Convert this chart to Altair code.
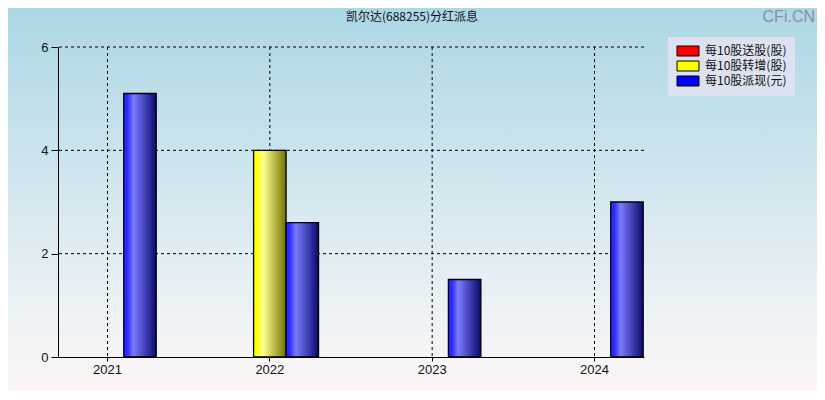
import altair as alt
import pandas as pd

years = ["2021", "2022", "2023", "2024"]
series = ["每10股送股(股)", "每10股转增(股)", "每10股派现(元)"]
song = [0, 0, 0, 0]
zhuan = [0, 4.0, 0, 0]
pai = [5.1, 2.6, 1.5, 3.0]
y_ticks = [0, 2, 4, 6]
title_text = "凯尔达(688255)分红派息"
watermark = "CFi.CN"

rows = []
for s, vals in zip(series, [song, zhuan, pai]):
    for y, v in zip(years, vals):
        rows.append({"year": y, "series": s, "value": v})
df = pd.DataFrame(rows)
ygrid_df = pd.DataFrame({"value": [t for t in y_ticks if t > 0]})
xgrid_df = pd.DataFrame({"year": years})

W, H = 586, 310
PL, PT, PR, PB = 50, 39, 173, 34

x_enc = alt.X("year:N", sort=years, title=None,
              scale=alt.Scale(paddingInner=0.4, paddingOuter=0.005),
              axis=alt.Axis(labelAngle=0, grid=False, ticks=True, tickSize=4, tickColor="black",
                            domainColor="black", labelFontSize=13, labelColor="#111",
                            labelPadding=2, labelFont="Liberation Sans", zindex=2))
xo_enc = alt.XOffset("series:N", sort=series,
                     scale=alt.Scale(domain=series, paddingInner=0, paddingOuter=0))
y_enc = alt.Y("value:Q", title=None,
              scale=alt.Scale(domain=[0, 6], nice=False),
              axis=alt.Axis(values=y_ticks, grid=False, tickColor="black", tickSize=7,
                            domainColor="black", labelFontSize=13, labelColor="#111",
                            labelPadding=3, labelFont="Liberation Sans", format="d", zindex=2))

bg = alt.Chart(alt.Data(values=[{"a": 1}])).mark_rect(
    fill=alt.Gradient(gradient="linear", x1=0, x2=0, y1=0, y2=1,
                      stops=[alt.GradientStop(offset=0, color="#acd7e5"),
                             alt.GradientStop(offset=0.5, color="#d5e8ef"),
                             alt.GradientStop(offset=0.85, color="#f1f4f6"),
                             alt.GradientStop(offset=1, color="#fdf6f5")])
).encode(x=alt.value(-PL), x2=alt.value(W + PR), y=alt.value(-PT), y2=alt.value(H + PB))

ygrid = alt.Chart(ygrid_df).mark_rule(color="black", strokeDash=[3, 3], strokeWidth=1).encode(
    y=y_enc)
xgrid = alt.Chart(xgrid_df).mark_rule(color="black", strokeDash=[3, 3], strokeWidth=1).encode(
    x=x_enc)

legend_layer = alt.Chart(df).mark_bar(opacity=0).encode(
    x=x_enc, xOffset=xo_enc, y=y_enc,
    color=alt.Color("series:N", sort=series,
                    scale=alt.Scale(domain=series, range=["#ff0000", "#ffff00", "#0000ff"]),
                    legend=alt.Legend(title=None, orient="none", legendX=610, legendY=-10,
                                      symbolType="M-1,-1H3.4V1H-1Z", symbolSize=100,
                                      symbolOpacity=1, symbolStrokeColor="black",
                                      symbolStrokeWidth=1, labelFontSize=12,
                                      labelFont="Noto Sans CJK SC", labelColor="#111",
                                      labelOffset=17, rowPadding=1, padding=8,
                                      fillColor="#dde2f0"))
)


def grad(c0, c1, c2):
    return alt.Gradient(gradient="linear", x1=0, x2=1, y1=0, y2=0,
                        stops=[alt.GradientStop(offset=0, color=c0),
                               alt.GradientStop(offset=0.1, color=c0),
                               alt.GradientStop(offset=0.3, color=c1),
                               alt.GradientStop(offset=1, color=c2)])


fills = {
    series[0]: grad("#ff2020", "#ff8080", "#700000"),
    series[1]: grad("#ffff10", "#ffff90", "#737300"),
    series[2]: grad("#2828ff", "#7a7aff", "#0a0a6e"),
}

bar_layers = []
for s in series:
    bar_layers.append(
        alt.Chart(df).transform_filter(
            (alt.datum.series == s) & (alt.datum.value > 0)
        ).mark_bar(fill=fills[s], stroke="black", strokeWidth=1.3).encode(
            x=x_enc, xOffset=xo_enc, y=y_enc
        )
    )

title_mark = alt.Chart(alt.Data(values=[{"a": 1}])).mark_text(
    font="Noto Sans CJK SC", fontSize=12, color="#111", align="center", baseline="middle"
).encode(x=alt.value(354), y=alt.value(-30), text=alt.value(title_text))

wm = alt.Chart(alt.Data(values=[{"a": 1}])).mark_text(
    font="Liberation Sans", fontSize=16, color="#8a9096", align="right", baseline="top"
).encode(x=alt.value(757), y=alt.value(-38), text=alt.value(watermark))

chart = alt.layer(bg, xgrid, ygrid, legend_layer, *bar_layers, title_mark, wm).properties(
    width=W, height=H,
    autosize=alt.AutoSizeParams(type="none"),
    padding={"left": PL, "top": PT, "right": PR, "bottom": PB},
    background="white",
).configure_view(stroke=None)

chart.save("out.html", embed_options={"renderer": "svg", "actions": False})
